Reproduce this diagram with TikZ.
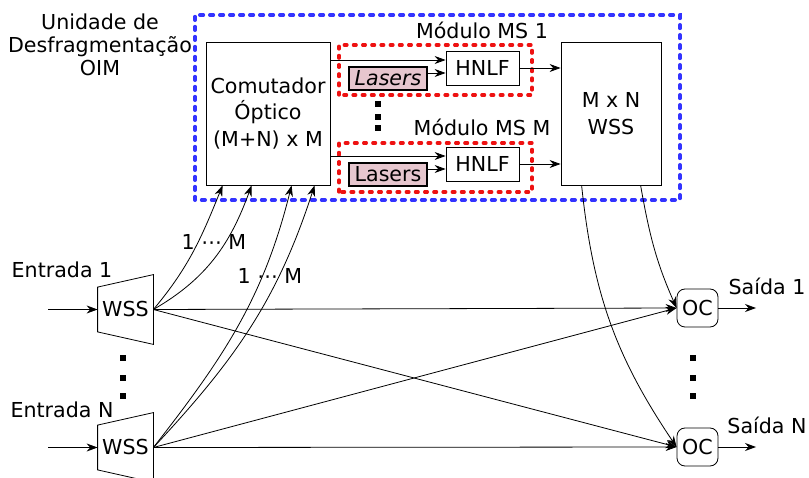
\documentclass[tikz,border=0pt]{standalone}
\usepackage{fontspec}
\setmainfont{DejaVu Sans}
\usetikzlibrary{calc,arrows.meta}
\definecolor{azul}{HTML}{3333FF}
\definecolor{vermelho}{HTML}{EE1111}
\definecolor{rosa}{HTML}{E6C6CE}

\begin{document}
\begin{tikzpicture}[x=0.5pt,y=0.5pt,
        font=\fontsize{10.3}{13.3}\selectfont,
        seta/.style={-{Stealth[length=5.5pt,width=4pt]}},
        caixa/.style={draw, fill=white, inner sep=0pt, align=center},
        laser/.style={draw, line width=1pt, fill=rosa, inner sep=0pt,
            minimum width=39pt, minimum height=11.5pt},
        modulo/.style={draw=vermelho, line width=1.6pt, dash pattern=on 1.4pt off 3.2pt, line cap=round},
        unidade/.style={draw=azul, line width=2pt, dash pattern=on 1.6pt off 3.4pt, line cap=round},
        wss/.style={inner sep=0pt, minimum width=27.5pt, minimum height=22pt},
        oc/.style={draw, rounded corners=4pt, inner sep=0pt, minimum width=20.5pt, minimum height=19pt}]

        \useasboundingbox (0,0) rectangle (809,477);

        \draw[unidade] (195,277) rectangle (680,462);
        \draw[modulo] (339,382) rectangle (532,432);
        \draw[modulo] (339,285) rectangle (532,334);

        \node[align=center, font=\fontsize{10.3}{11.5}\selectfont] (oim) at (100,432) {Unidade de\\Desfragmentação\\OIM};

        \node[caixa, minimum width=62pt, minimum height=71.5pt] (com) at (268,363.5) {Comutador\\Óptico\\(M+N) x M};
        \node[caixa, minimum width=50pt, minimum height=71.5pt] (mxn) at (611,363.5) {M x N\\WSS};

        \node[caixa, minimum width=36.5pt, minimum height=17pt] (hnlf1) at (482.5,409) {HNLF};
        \node[caixa, minimum width=36.5pt, minimum height=17pt] (hnlf2) at (482.5,313) {HNLF};
        \node[laser] (las1) at (388,398.5) {\itshape Lasers};
        \node[laser] (las2) at (388,302.5) {Lasers};
        \node (ms1) at (482,447) {Módulo MS 1};
        \node (msm) at (482,350) {Módulo MS M};

        \draw[seta] ([yshift=4pt]hnlf1.west -| com.east) -- ([yshift=4pt]hnlf1.west);
        \draw[seta] ([yshift=-2.5pt]hnlf1.west -| las1.east) -- ([yshift=-2.5pt]hnlf1.west);
        \draw[seta] ([yshift=4pt]hnlf2.west -| com.east) -- ([yshift=4pt]hnlf2.west);
        \draw[seta] ([yshift=-2.5pt]hnlf2.west -| las2.east) -- ([yshift=-2.5pt]hnlf2.west);
        \draw[seta] (hnlf1.east) -- (hnlf1.east -| mxn.west);
        \draw[seta] (hnlf2.east) -- (hnlf2.east -| mxn.west);

        \node[wss] (wss1) at (125.5,167.5) {WSS};
        \node[wss] (wssN) at (125.5,29.5) {WSS};
        \foreach \w in {wss1,wssN}
            \draw (\w.north west) -- ($(\w.north east)+(0,12.5)$) -- ($(\w.south east)+(0,-12.5)$) -- (\w.south west) -- cycle;

        \node[oc] (oc1) at (697.5,169) {OC};
        \node[oc] (ocN) at (697.5,30) {OC};

        \coordinate (e1) at (48,167.5);
        \coordinate (eN) at (48,29.5);
        \coordinate (s1) at (756,169);
        \coordinate (sN) at (756,30);
        \draw[seta] (e1) -- (wss1.west);
        \draw[seta] (eN) -- (wssN.west);
        \draw[seta] (oc1.east) -- (s1);
        \draw[seta] (ocN.east) -- (sN);

        \node (ent1) at (62,207) {Entrada 1};
        \node (entN) at (62,67) {Entrada N};
        \node (sai1) at (767,191) {Saída 1};
        \node (saiN) at (767,52) {Saída N};

        \draw[seta] (wss1.east) to[out=50,in=-112] ([xshift=8.5pt]com.south west);
        \draw[seta] (wss1.east) to[out=30,in=-110] ([xshift=23pt]com.south west);
        \draw[seta] (wssN.east) to[out=52,in=-104] ([xshift=43pt]com.south west);
        \draw[seta] (wssN.east) to[out=47,in=-108] ([xshift=54.5pt]com.south west);
        \node (m1) at (214,235) {1 ⋯ M};
        \node (m2) at (270,201) {1 ⋯ M};

        \draw[seta] (wss1.east) -- (oc1.west);
        \draw[seta] (wss1.east) -- (ocN.west);
        \draw[seta] (wssN.east) -- (oc1.west);
        \draw[seta] (wssN.east) -- (ocN.west);

        \draw[seta] ([xshift=10.5pt]mxn.south west) to[out=-84,in=124] (ocN.west);
        \draw[seta] ([xshift=40pt]mxn.south west) to[out=-80,in=114] (oc1.west);

        \foreach \y in {372.7,360.3,348.7}
            \fill (375,\y-3) rectangle ++(6,6);
        \foreach \y in {119.3,99.3,81.3} {
            \fill (120.3,\y-3) rectangle ++(6,6);
            \fill (690.3,\y-3) rectangle ++(6,6);
        }
\end{tikzpicture}
\end{document}
